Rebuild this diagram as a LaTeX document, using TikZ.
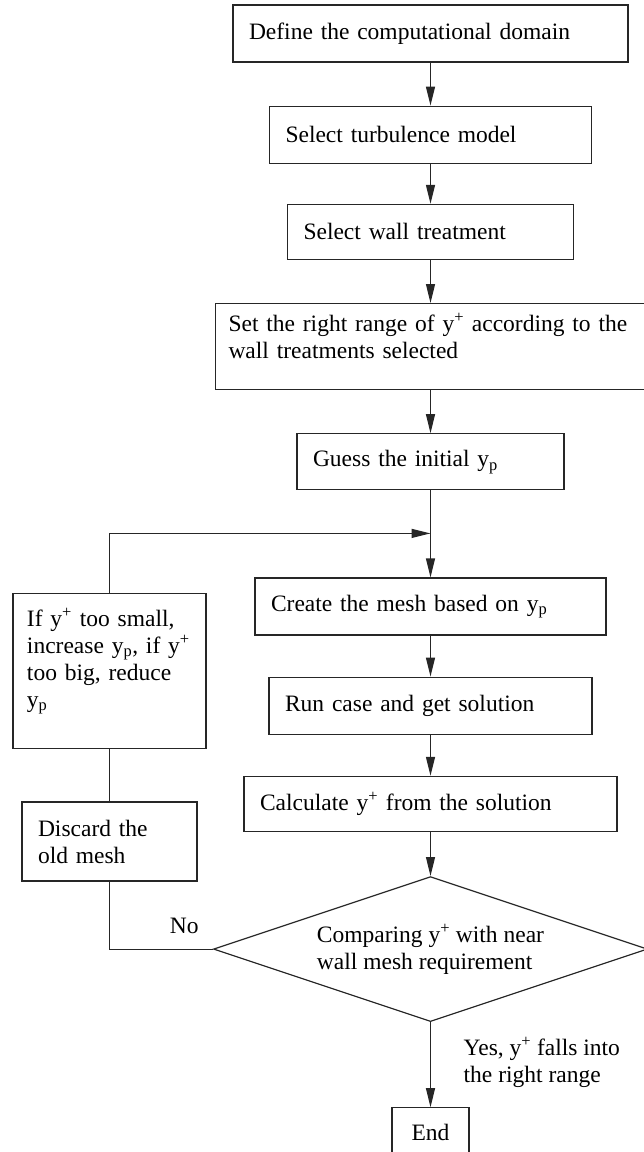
\documentclass[tikz,border=0pt]{standalone}
\usepackage{fontspec}
\setmainfont{Liberation Serif}
\usetikzlibrary{shapes.geometric, arrows.meta, positioning}
\tikzset{
    process/.style={rectangle, draw=black!85, line width=1.2pt, fill=white, align=left, inner xsep=16pt, inner ysep=4pt, font=\fontsize{23.5}{27}\selectfont},
    decision/.style={diamond, aspect=2.99, draw=black!85, line width=1.2pt, fill=white, align=left, inner sep=2pt, font=\fontsize{23.5}{27}\selectfont},
    arrow/.style={-{Triangle[length=19pt, width=9pt]}, draw=black!85, line width=1.2pt},
    link/.style={draw=black!85, line width=1.2pt},
    note/.style={font=\fontsize{23.5}{27}\selectfont, inner sep=0pt, align=left}
}

\begin{document}
\begin{tikzpicture}[x=1pt, y=-1pt, node distance=43pt]
\useasboundingbox (0,0) rectangle (643,1152);

% Nodes
\node (domain) [process, text width=363pt, minimum height=57pt] at (430.5,33.5) {Define the computational domain};

\node (model) [process, below=43pt of domain, text width=290pt, minimum height=57pt] {Select turbulence model};

\node (wall) [process, below=40pt of model, text width=254pt, minimum height=55pt] {Select wall treatment};

\node (range) [process, below=43pt of wall, inner xsep=13pt, text width=404pt, minimum height=86pt] {Set the right range of y\textsuperscript{+} according to the\\wall treatments selected\\[-6pt]\mbox{}};

\node (guess) [process, below=43pt of range, text width=235pt, minimum height=56pt] {Guess the initial y\textsubscript{p}};

\coordinate [below=43pt of guess.south] (join);

\node (mesh) [process, below=87pt of guess, text width=319pt, minimum height=57pt] {Create the mesh based on y\textsubscript{p}};

\node (run) [process, below=41pt of mesh, text width=291pt, minimum height=57pt] {Run case and get solution};

\node (calc) [process, below=41pt of run, text width=341pt, minimum height=55pt] {Calculate y\textsuperscript{+} from the solution};

\node (dia) [decision, below=44pt of calc, minimum width=434pt, minimum height=145pt] {Comparing y\textsuperscript{+} with near\\wall mesh requirement};

\node (end) [process, below=85pt of dia, align=center, text width=45pt, minimum height=50pt] {End};

% Left branch
\node (adjust) [process, inner xsep=14pt, text width=165pt, minimum height=155pt] at (109.5,671) {If y\textsuperscript{+} too small,\\increase y\textsubscript{p}, if y\textsuperscript{+}\\too big, reduce\\y\textsubscript{p}\\\mbox{}};

\node (discard) [process, text width=143pt, minimum height=79pt] at (109.5,841.5) {Discard the\\old mesh};

% Arrows
\draw [arrow] (domain) -- (model);
\draw [arrow] (model) -- (wall);
\draw [arrow] (wall) -- (range);
\draw [arrow] (range) -- (guess);
\draw [arrow] (guess) -- (mesh);
\draw [arrow] (mesh) -- (run);
\draw [arrow] (run) -- (calc);
\draw [arrow] (calc) -- (dia);
\draw [arrow] (dia) -- (end);

% Loop back
\draw [link] (dia.west) -| (discard.south);
\draw [link] (discard.north) -- (adjust.south);
\draw [arrow] (adjust.north) |- (join);

% Branch labels
\node (no) [note, above left=15pt and 14pt of dia.west] {No};
\node (yes) [note, below right=15pt and 33pt of dia.south] {Yes, y\textsuperscript{+} falls into\\the right range};

\end{tikzpicture}
\end{document}
